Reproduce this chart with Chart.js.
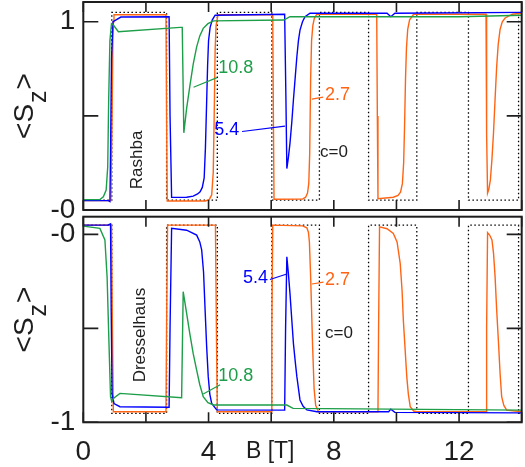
<!DOCTYPE html>
<html>
<head>
<meta charset="utf-8">
<title>Spin polarization vs B</title>
<script src="https://cdn.jsdelivr.net/npm/chart.js"></script>
<style>
  body { margin: 0; background: #fff; }
  .wrap { position: relative; width: 525px; height: 467px; }
  canvas { position: absolute; left: 0; }
  #rashba { top: 0; }
  #dressel { top: 200px; }
</style>
</head>
<body>
<div class="wrap">
  <canvas id="rashba" width="525" height="232"></canvas>
  <canvas id="dressel" width="525" height="267"></canvas>
</div>
<script>
// field axis, tesla
var bTicks = [0, 2, 4, 6, 8, 10, 12, 14];
var bLabels = {0: '0', 4: '4', 8: '8', 12: '12'};

// Rashba panel, <Sz> vs B for c = 0, 2.7, 5.4, 10.8
var rashbaC0 = [[0,0.052],[0.91,0.052],[0.91,1.05],[2.66,1.05],[2.66,0.052],[4.28,0.052],[4.28,1.05],[6.02,1.05],[6.02,0.052],[7.54,0.052],[7.54,1.05],[9.11,1.05],[9.11,0.052],[10.65,0.052],[10.65,1.05],[12.3,1.05],[12.3,0.052],[13.9,0.052],[13.9,1.05],[14,1.05]];
var rashba27 = [[0,0.05],[0.88,0.05],[0.92,0.5],[0.95,1.0],[0.98,1.037],[2.64,1.037],[2.66,0.5],[2.68,0.048],[3.9,0.048],[4.02,0.055],[4.1,0.08],[4.15,0.2],[4.18,0.5],[4.21,0.85],[4.24,0.98],[4.3,1.037],[6.05,1.037],[6.07,0.5],[6.09,0.057],[7.0,0.058],[7.1,0.068],[7.16,0.09],[7.2,0.14],[7.23,0.3],[7.26,0.7],[7.29,0.9],[7.33,0.98],[7.38,1.02],[7.46,1.04],[9.37,1.04],[9.39,0.5],[9.41,0.06],[9.9,0.068],[10.05,0.078],[10.13,0.095],[10.19,0.14],[10.23,0.25],[10.26,0.45],[10.29,0.7],[10.32,0.86],[10.36,0.96],[10.42,1.01],[10.55,1.04],[12.86,1.04],[12.88,0.4],[12.91,0.09],[12.95,0.11],[13.0,0.16],[13.05,0.27],[13.1,0.41],[13.15,0.59],[13.2,0.76],[13.25,0.88],[13.31,0.96],[13.38,1.0],[13.47,1.02],[13.7,1.04],[14,1.045]];
var rashba54 = [[0,0.05],[0.8,0.05],[0.85,0.045],[0.87,0.3],[0.9,0.8],[0.95,1.0],[1.2,1.025],[2.74,1.027],[2.77,0.5],[2.82,0.067],[3.3,0.068],[3.51,0.074],[3.65,0.085],[3.73,0.097],[3.8,0.12],[3.86,0.17],[3.9,0.33],[3.94,0.58],[3.97,0.77],[4.0,0.9],[4.05,0.97],[4.12,1.01],[4.21,1.035],[6.43,1.04],[6.47,0.6],[6.5,0.22],[6.55,0.28],[6.6,0.354],[6.66,0.47],[6.71,0.584],[6.77,0.71],[6.82,0.814],[6.87,0.9],[6.92,0.956],[7.0,1.0],[7.08,1.027],[7.24,1.045],[9.7,1.045],[9.82,1.027],[9.95,1.045],[14,1.05]];
var rashba108 = [[0,0.055],[0.53,0.055],[0.64,0.07],[0.73,0.106],[0.78,0.23],[0.81,0.58],[0.85,0.9],[0.9,0.99],[0.95,0.985],[1.12,0.947],[3.09,0.97],[3.16,0.97],[3.21,0.41],[3.3,0.54],[3.4,0.655],[3.51,0.775],[3.62,0.867],[3.72,0.925],[3.83,0.965],[3.98,0.99],[4.16,1.005],[6.4,1.009],[6.6,1.027],[12,1.027],[14,1.035]];

// Dresselhaus panel
var dresC0 = [[0,0.049],[0.91,0.049],[0.91,-0.952],[2.66,-0.952],[2.66,0.049],[4.28,0.049],[4.28,-0.952],[6.02,-0.952],[6.02,0.049],[7.54,0.049],[7.54,-0.952],[9.11,-0.952],[9.11,0.049],[10.65,0.049],[10.65,-0.952],[12.3,-0.952],[12.3,0.049],[13.9,0.049],[13.9,-0.952],[14,-0.952]];
var dres27 = [[0,0.049],[0.9,0.049],[0.93,-0.5],[0.96,-0.944],[2.64,-0.944],[2.66,-0.5],[2.69,0.049],[4.22,0.049],[4.25,-0.5],[4.28,-0.944],[6.0,-0.944],[6.02,-0.5],[6.05,0.049],[7.0,0.045],[7.14,0.035],[7.19,0.01],[7.22,-0.04],[7.26,-0.226],[7.32,-0.58],[7.37,-0.82],[7.42,-0.91],[7.51,-0.944],[9.41,-0.944],[9.43,-0.5],[9.46,0.04],[9.7,0.03],[9.9,0.005],[10.02,-0.04],[10.12,-0.154],[10.18,-0.3],[10.22,-0.456],[10.28,-0.62],[10.33,-0.757],[10.38,-0.85],[10.44,-0.917],[10.55,-0.94],[10.65,-0.944],[12.86,-0.944],[12.88,-0.5],[12.91,0.009],[12.98,-0.005],[13.05,-0.03],[13.1,-0.1],[13.15,-0.225],[13.2,-0.4],[13.26,-0.58],[13.31,-0.74],[13.36,-0.864],[13.43,-0.91],[13.52,-0.935],[14,-0.944]];
var dres54 = [[0,0.049],[0.8,0.05],[0.87,0.056],[0.89,-0.4],[0.92,-0.85],[0.98,-0.9],[1.17,-0.917],[2.74,-0.92],[2.77,-0.5],[2.82,0.032],[3.3,0.022],[3.62,-0.004],[3.72,-0.04],[3.78,-0.083],[3.84,-0.2],[3.89,-0.403],[3.94,-0.6],[3.99,-0.757],[4.04,-0.85],[4.1,-0.9],[4.26,-0.934],[6.43,-0.935],[6.46,-0.5],[6.5,-0.119],[6.55,-0.21],[6.6,-0.314],[6.66,-0.46],[6.71,-0.58],[6.77,-0.68],[6.82,-0.757],[6.92,-0.881],[7.02,-0.915],[7.14,-0.934],[7.46,-0.944],[9.75,-0.944],[9.82,-0.93],[9.95,-0.947],[14,-0.95]];
var dres108 = [[0,0.044],[0.53,0.032],[0.69,-0.03],[0.76,-0.226],[0.82,-0.58],[0.87,-0.864],[0.91,-0.89],[0.98,-0.87],[1.17,-0.846],[3.14,-0.869],[3.19,-0.305],[3.3,-0.42],[3.4,-0.527],[3.51,-0.635],[3.62,-0.722],[3.72,-0.8],[3.83,-0.864],[3.98,-0.895],[4.16,-0.908],[6.5,-0.908],[6.7,-0.926],[14,-0.935]];

var FONT = '"Liberation Sans", Arial, Helvetica, sans-serif';
var INK = '#1e1e1e';
var ORANGE = '#ff6414';
var BLUE = '#0000ff';
var GREEN = '#1d9e48';

function line(data, color, dash) {
    return {
        data: data,
        borderColor: color,
        borderWidth: dash ? 1.3 : 1.4,
        borderDash: dash || [],
        pointRadius: 0,
        tension: 0,
        fill: false
    };
}

// box frame with inward ticks on all four sides
var frame = {
    id: 'frame',
    afterDraw: function(chart) {
        var ctx = chart.ctx, a = chart.chartArea;
        var x = chart.scales.x, y = chart.scales.y;
        ctx.save();
        ctx.strokeStyle = INK;
        ctx.lineWidth = 1.6;
        ctx.beginPath();
        y.ticks.forEach(function(t) {
            var py = y.getPixelForValue(t.value);
            ctx.moveTo(a.left, py); ctx.lineTo(a.left + 15, py);
            ctx.moveTo(a.right, py); ctx.lineTo(a.right - 15, py);
        });
        x.ticks.forEach(function(t) {
            var px = x.getPixelForValue(t.value);
            ctx.moveTo(px, a.bottom); ctx.lineTo(px, a.bottom - 10);
            ctx.moveTo(px, a.top); ctx.lineTo(px, a.top + 10);
        });
        ctx.stroke();
        ctx.lineWidth = 2;
        ctx.strokeRect(a.left, a.top, a.right - a.left, a.bottom - a.top);
        ctx.restore();
    }
};

// curve labels, leaders and the rotated <S_z> title
function notes(items, xTitle) {
    return {
        id: 'notes',
        afterDatasetsDraw: function(chart) {
            var ctx = chart.ctx, a = chart.chartArea;
            var x = chart.scales.x, y = chart.scales.y;
            ctx.save();
            items.forEach(function(n) {
                var px = x.getPixelForValue(n.x), py = y.getPixelForValue(n.y);
                if (n.leader) {
                    ctx.strokeStyle = n.color;
                    ctx.lineWidth = 1.2;
                    ctx.beginPath();
                    ctx.moveTo(x.getPixelForValue(n.leader[0]), y.getPixelForValue(n.leader[1]));
                    ctx.lineTo(x.getPixelForValue(n.leader[2]), y.getPixelForValue(n.leader[3]));
                    ctx.stroke();
                }
                ctx.fillStyle = n.color;
                ctx.font = n.size + 'px ' + FONT;
                ctx.textBaseline = 'middle';
                if (n.rotate) {
                    ctx.save();
                    ctx.translate(px, py);
                    ctx.rotate(-Math.PI / 2);
                    ctx.textAlign = 'center';
                    ctx.fillText(n.text, 0, 0);
                    ctx.restore();
                } else {
                    ctx.textAlign = 'left';
                    ctx.fillText(n.text, px, py);
                }
            });

            // <S_z>
            ctx.save();
            ctx.fillStyle = INK;
            ctx.textBaseline = 'alphabetic';
            ctx.textAlign = 'left';
            ctx.font = '28px ' + FONT;
            var w1 = ctx.measureText('<S').width;
            var w3 = ctx.measureText('>').width;
            ctx.font = '25px ' + FONT;
            var w2 = ctx.measureText('z').width;
            var total = w1 + w2 + w3 + 2;
            ctx.translate(33, (a.top + a.bottom) / 2 + total / 2);
            ctx.rotate(-Math.PI / 2);
            ctx.font = '28px ' + FONT;
            ctx.fillText('<S', 0, 0);
            ctx.font = '25px ' + FONT;
            ctx.fillText('z', w1 + 1, 13);
            ctx.font = '28px ' + FONT;
            ctx.fillText('>', w1 + w2 + 2, 0);
            ctx.restore();

            if (xTitle) {
                ctx.fillStyle = INK;
                ctx.font = '23px ' + FONT;
                ctx.textAlign = 'center';
                ctx.textBaseline = 'alphabetic';
                ctx.fillText(xTitle, x.getPixelForValue(6) - 1, a.bottom + 36);
            }
            ctx.restore();
        }
    };
}

function panel(id, sets, yMin, yMax, yTickVals, yLabels, padding, showX, items, xTitle) {
    return new Chart(document.getElementById(id), {
        type: 'line',
        data: { datasets: sets },
        options: {
            responsive: false,
            animation: false,
            devicePixelRatio: 1,
            layout: { padding: padding },
            plugins: { legend: { display: false }, tooltip: { enabled: false } },
            scales: {
                x: {
                    type: 'linear', min: 0, max: 14,
                    grid: { display: false, drawTicks: false },
                    border: { display: false },
                    afterBuildTicks: function(s) { s.ticks = bTicks.map(function(v) { return {value: v}; }); },
                    afterFit: function(s) { s.height = showX ? 44.7 : 0; s.paddingLeft = 0; s.paddingRight = 0; },
                    ticks: {
                        display: showX, autoSkip: false, maxRotation: 0, padding: 13,
                        color: INK, font: { family: FONT, size: 28 },
                        callback: function(v) { return bLabels[v] || ''; }
                    }
                },
                y: {
                    type: 'linear', min: yMin, max: yMax,
                    grid: { display: false, drawTicks: false },
                    border: { display: false },
                    afterBuildTicks: function(s) { s.ticks = yTickVals.map(function(v) { return {value: v}; }); },
                    afterFit: function(s) { s.width = 83.3; s.paddingTop = 0; s.paddingBottom = 0; },
                    ticks: {
                        autoSkip: false, padding: 8,
                        color: INK, font: { family: FONT, size: 28 },
                        callback: function(v) { return yLabels[v] || ''; }
                    }
                }
            }
        },
        plugins: [frame, notes(items, xTitle)]
    });
}

panel('rashba', [
        line(rashba108, GREEN),
        line(rashba54, BLUE),
        line(rashba27, ORANGE),
        line(rashbaC0, '#000', [1.5, 2.5])
    ], 0, 1.105, [0, 0.5, 1], {0: '-0', 1: '1'},
    { top: 2, bottom: 22, left: 0, right: 3.3 }, false, [
        { text: 'Rashba', x: 1.72, y: 0.266, color: INK, size: 17, rotate: true },
        { text: '10.8', x: 4.31, y: 0.754, color: GREEN, size: 18, leader: [3.52, 0.652, 4.27, 0.703] },
        { text: '5.4', x: 4.18, y: 0.427, color: BLUE, size: 18, leader: [5.07, 0.417, 6.44, 0.446] },
        { text: '2.7', x: 7.72, y: 0.611, color: ORANGE, size: 18, leader: [7.30, 0.589, 7.66, 0.60] },
        { text: 'c=0', x: 7.56, y: 0.308, color: INK, size: 17 }
    ], null);

panel('dressel', [
        line(dres108, GREEN),
        line(dres54, BLUE),
        line(dres27, ORANGE),
        line(dresC0, '#000', [1.5, 2.5])
    ], -1, 0.094, [-1, -0.5, 0], {'-1': '-1', 0: '-0'},
    { top: 16.7, bottom: 0, left: 0, right: 3.3 }, true, [
        { text: 'Dresselhaus', x: 1.81, y: -0.536, color: INK, size: 17, rotate: true },
        { text: '10.8', x: 4.31, y: -0.756, color: GREEN, size: 18, leader: [3.83, -0.849, 4.37, -0.80] },
        { text: '5.4', x: 5.10, y: -0.235, color: BLUE, size: 18, leader: [5.96, -0.240, 6.5, -0.211] },
        { text: '2.7', x: 7.72, y: -0.243, color: ORANGE, size: 18, leader: [7.30, -0.264, 7.67, -0.254] },
        { text: 'c=0', x: 7.72, y: -0.525, color: INK, size: 17 }
    ], 'B [T]');
</script>
</body>
</html>
